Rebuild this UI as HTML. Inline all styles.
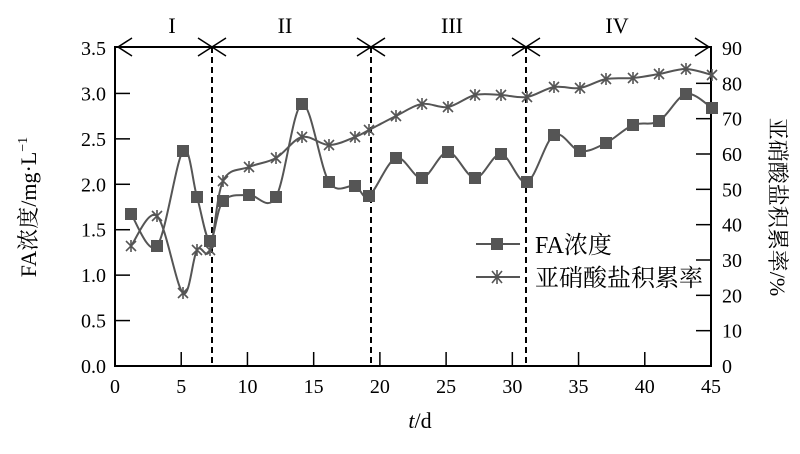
<!DOCTYPE html>
<html><head><meta charset="utf-8"><style>
body{margin:0;background:#fff}
svg text{font-family:"Liberation Serif","Noto Serif CJK SC","Noto Sans CJK SC",serif;fill:#000}
</style></head><body>
<svg id="s" width="800" height="449" viewBox="0 0 800 449" xmlns="http://www.w3.org/2000/svg">
<g stroke="#000" stroke-width="2" fill="none">
<rect x="115" y="47" width="596" height="319"/>
</g>
<g stroke="#000" stroke-width="1.5" id="ticks"></g>
<g stroke="#000" stroke-width="2" stroke-dasharray="6,4">
<line x1="212" y1="47" x2="212" y2="366"/><line x1="371" y1="47" x2="371" y2="366"/><line x1="526" y1="47" x2="526" y2="366"/>
</g>
<g stroke="#000" stroke-width="1.5" fill="none">
<path d="M118,47 L526,47 M526,47 L709,47"/>
<path d="M132,38 L118,47 L132,56 M198,38 L212,47 L198,56 M226,38 L212,47 L226,56 M357,38 L371,47 L357,56 M385,38 L371,47 L385,56 M512,38 L526,47 L512,56 M540,38 L526,47 L540,56 M695,38 L709,47 L695,56"/>
</g>
<g font-size="22" text-anchor="middle">
<text x="172" y="33">I</text><text x="285" y="33">II</text><text x="452" y="33">III</text><text x="617" y="33">IV</text>
</g>
<g id="lab" font-size="20"></g>
<path id="p1" fill="none" stroke="#555" stroke-width="2"/>
<path id="p2" fill="none" stroke="#555" stroke-width="2"/>
<g id="m"></g>
<g font-size="24">
<text x="535" y="253">FA浓度</text>
<text x="535" y="286">亚硝酸盐积累率</text>
</g>
<g stroke="#555" stroke-width="2"><line x1="476" y1="244" x2="520" y2="244"/><line x1="476" y1="277" x2="520" y2="277"/></g>
<rect x="491" y="238" width="12" height="12" fill="#555"/>
<path d="M492,271L502,283M492,283L502,271M497,270L497,284" stroke="#555" stroke-width="1.6"/>
<text font-size="22" transform="translate(36,207) rotate(-90)" text-anchor="middle">FA浓度/mg·L<tspan font-size="14" dy="-9">−1</tspan></text>
<text font-size="22" transform="translate(770,207) rotate(90)" text-anchor="middle">亚硝酸盐积累率/%</text>
<text x="420" y="428" font-size="22" text-anchor="middle"><tspan font-style="italic">t</tspan>/d</text>
</svg>
<script>
var NS="http://www.w3.org/2000/svg";
function el(p,t,a,txt){var e=document.createElementNS(NS,t);for(var k in a)e.setAttribute(k,a[k]);if(txt!=null)e.textContent=txt;document.getElementById(p).appendChild(e);return e;}
var lab='lab';
for(var i=0;i<=7;i++){var y=366-i*318/7;if(i>0&&i<7)el('ticks','line',{x1:115,y1:y,x2:130,y2:y});el(lab,'text',{x:106,y:y+7,'text-anchor':'end'},(i*0.5).toFixed(1));}
for(var i=0;i<=9;i++){var y=366-i*318/9;if(i>0&&i<9)el('ticks','line',{x1:711,y1:y,x2:696,y2:y});el(lab,'text',{x:722,y:y+7},String(i*10));}
for(var i=0;i<=9;i++){var x=115+i*596/9;if(i>0&&i<9)el('ticks','line',{x1:x,y1:366,x2:x,y2:352});el(lab,'text',{x:x,y:393,'text-anchor':'middle'},String(i*5));}
var A=[[131,214],[157,246],[183,151],[197,197],[210,241],[223,201],[249,195],[276,197],[302,104],[329,182],[355,186],[369,196],[396,158],[422,178],[448,152],[475,178],[501,154],[527,182],[554,135],[580,151],[606,143],[633,125],[659,121],[686,94],[712,108]];
var B=[[131,246],[157,216],[183,293],[197,250],[210,250],[223,181],[249,167],[276,158],[302,137],[329,145],[355,137],[369,130],[396,116],[422,104],[448,107],[475,95],[501,95],[527,97],[554,87],[580,88],[606,79],[633,78],[659,74],[686,69],[712,75]];
function cr(P){var d="M"+P[0][0]+","+P[0][1];for(var i=0;i<P.length-1;i++){var p0=P[Math.max(0,i-1)],p1=P[i],p2=P[i+1],p3=P[Math.min(P.length-1,i+2)];var c1x=p1[0]+(p2[0]-p0[0])/6,c1y=p1[1]+(p2[1]-p0[1])/6,c2x=p2[0]-(p3[0]-p1[0])/6,c2y=p2[1]-(p3[1]-p1[1])/6;d+=" C"+c1x+","+c1y+" "+c2x+","+c2y+" "+p2[0]+","+p2[1];}return d;}
document.getElementById('p1').setAttribute('d',cr(A));
document.getElementById('p2').setAttribute('d',cr(B));
A.forEach(function(p){el('m','rect',{x:p[0]-6,y:p[1]-6,width:12,height:12,fill:'#555'});});
B.forEach(function(p){var x=p[0],y=p[1],s=5;el('m','path',{d:"M"+(x-s)+","+(y-s)+"L"+(x+s)+","+(y+s)+"M"+(x-s)+","+(y+s)+"L"+(x+s)+","+(y-s)+"M"+x+","+(y-s-1)+"L"+x+","+(y+s+1),stroke:'#555','stroke-width':1.6});});
</script>
</body></html>
